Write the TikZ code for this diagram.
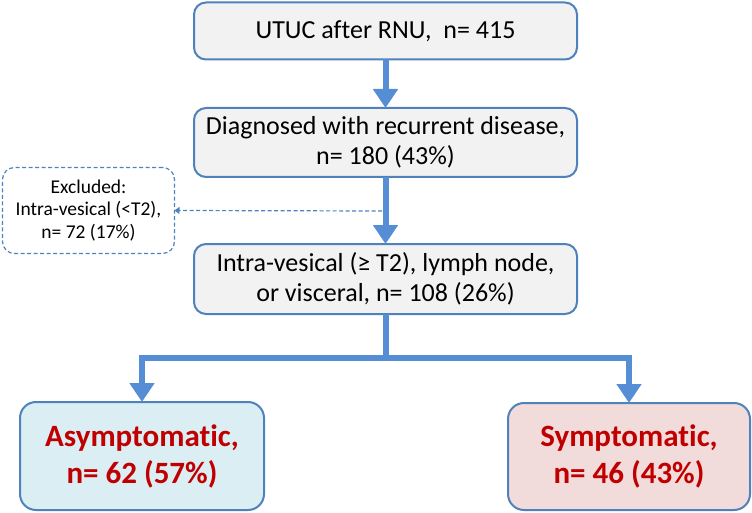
\documentclass[tikz,border=0pt]{standalone}
\usepackage{fontspec}
\setmainfont[Ligatures={NoCommon}]{Carlito}
\usetikzlibrary{arrows.meta}
\definecolor{lineblue}{HTML}{558ED5}
\definecolor{boxblue}{HTML}{4F81BD}
\definecolor{boxgray}{HTML}{F2F2F2}
\definecolor{lblue}{HTML}{DBEEF4}
\definecolor{lpink}{HTML}{F2DCDB}
\definecolor{dred}{HTML}{C00000}
\tikzset{
  mainbox/.style={draw=boxblue, line width=2pt, fill=boxgray, rounded corners=12pt,
    inner sep=0pt, outer sep=0pt, align=center, font=\fontsize{26}{30}\selectfont},
  exbox/.style={draw=boxblue, line width=1.2pt, dashed, dash pattern=on 4pt off 2.5pt,
    rounded corners=12pt, inner sep=0pt, outer sep=0pt, align=center,
    font=\fontsize{19.5}{22.5}\selectfont},
  resbox/.style={draw=boxblue, line width=2pt, rounded corners=16pt, inner sep=0pt,
    outer sep=0pt, align=center, text=dred,
    font=\fontsize{31}{37}\selectfont\bfseries},
  flow/.style={draw=lineblue, line width=6pt},
  flowarrow/.style={flow, -{Triangle[width=24pt,length=19pt]}},
  exarrow/.style={draw=boxblue, line width=1.2pt, dash pattern=on 4pt off 2.5pt,
    -{Triangle[width=7pt,length=5pt]}}
}
\begin{document}
\begin{tikzpicture}[x=1pt,y=-1pt]
\useasboundingbox (0,0) rectangle (752,513);
\node[mainbox, minimum width=383pt, minimum height=57pt] (b1) at (385.5,31) {UTUC after RNU,\ \ n= 415};
\node[mainbox, minimum width=383pt, minimum height=69pt] (b2) at (385.5,142.5) {Diagnosed with recurrent disease,\\n= 180 (43\%)};
\node[mainbox, minimum width=383pt, minimum height=70pt] (b3) at (385.5,279) {Intra-vesical (≥ T2), lymph node,\\or visceral, n= 108 (26\%)};
\node[exbox, minimum width=172pt, minimum height=86pt] (ex) at (88.5,210.5) {Excluded:\\Intra-vesical (<T2),\\n= 72 (17\%)};
\node[resbox, fill=lblue, minimum width=244pt, minimum height=108pt] (L) at (142,456) {Asymptomatic,\\n= 62 (57\%)};
\node[resbox, fill=lpink, minimum width=242pt, minimum height=107pt] (R) at (629,456.5) {Symptomatic,\\n= 46 (43\%)};
\coordinate (d) at (382,211);
\coordinate (j) at (385.5,358);
\draw[flowarrow] (b1.south) -- (b2.north);
\draw[flowarrow] (b2.south) -- (b3.north);
\draw[exarrow] (d) -- (ex.east);
\draw[flow] (b3.south) -- (j);
\draw[flowarrow] (j) -| (L.north);
\draw[flowarrow] (j) -| (R.north);
\end{tikzpicture}
\end{document}
